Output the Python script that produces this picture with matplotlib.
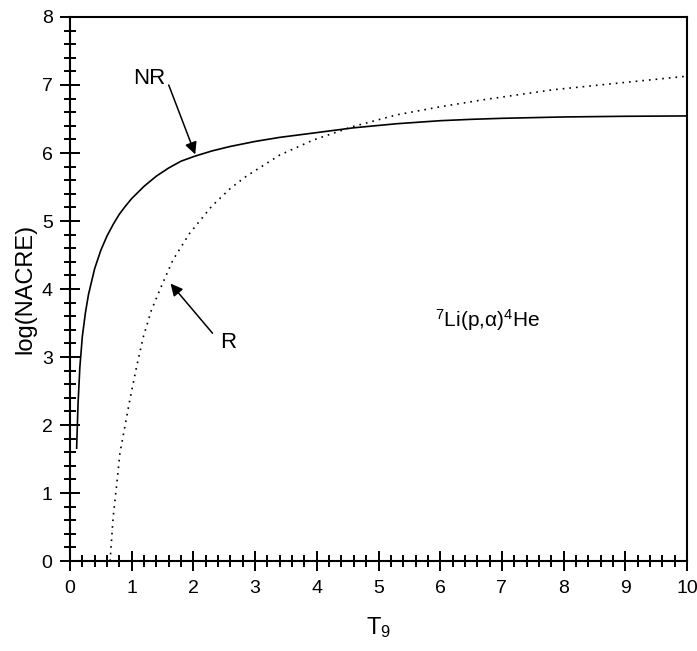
import matplotlib
matplotlib.use("Agg")
import matplotlib.pyplot as plt
from matplotlib.ticker import MultipleLocator

plt.rcParams['font.family'] = ['Liberation Sans', 'DejaVu Sans']
plt.rcParams['mathtext.fontset'] = 'custom'
plt.rcParams['mathtext.rm'] = 'Liberation Sans'
plt.rcParams['mathtext.it'] = 'Liberation Sans'

# non-resonant part (solid)
t9_nr = [0.108, 0.13, 0.16, 0.2, 0.25, 0.3, 0.4, 0.5, 0.6, 0.7, 0.8, 0.9,
         1.0, 1.2, 1.4, 1.6, 1.8, 2.03, 2.3, 2.59, 3.0, 3.4, 4.0, 4.59, 5.29,
         6.0, 6.5, 7.0, 8.0, 9.0, 10.0]
log_nr = [1.66, 2.3, 2.85, 3.3, 3.65, 3.92, 4.3, 4.57, 4.78, 4.95, 5.1, 5.22,
          5.33, 5.51, 5.66, 5.78, 5.88, 5.955, 6.03, 6.095, 6.17, 6.23, 6.30,
          6.37, 6.43, 6.475, 6.495, 6.51, 6.53, 6.54, 6.545]

# resonant part (dotted)
t9_r = [0.65, 0.70, 0.76, 0.81, 0.89, 0.97, 1.08, 1.19, 1.32, 1.49, 1.67, 1.94,
        2.30, 2.60, 2.86, 3.40, 3.94, 4.59, 5.29, 6.0, 6.75, 7.83, 8.91, 10.0]
log_r = [0.0, 0.65, 1.15, 1.59, 1.98, 2.37, 2.86, 3.30, 3.69, 4.06, 4.43, 4.82,
         5.22, 5.48, 5.66, 5.97, 6.19, 6.39, 6.56, 6.68, 6.79, 6.93, 7.03, 7.13]

fig = plt.figure(figsize=(6.97, 6.51), dpi=100)
ax = fig.add_axes([0.1004, 0.1382, 0.8853, 0.8357])

ax.plot(t9_nr, log_nr, color='black', lw=1.2)
ax.plot(t9_r, log_r, color='black', lw=1.2, linestyle=(0, (1, 3)))

ax.set_xlim(0, 10)
ax.set_ylim(0, 8)
ax.xaxis.set_major_locator(MultipleLocator(1))
ax.xaxis.set_minor_locator(MultipleLocator(0.2))
ax.yaxis.set_major_locator(MultipleLocator(1))
ax.yaxis.set_minor_locator(MultipleLocator(0.2))
ax.tick_params(which='major', direction='inout', length=15, width=1.4,
               labelsize=14, pad=5)
ax.tick_params(which='minor', direction='inout', length=8.5, width=1.4)
ax.tick_params(axis='x', which='major', pad=6)
for s in ax.spines.values():
    s.set_linewidth(1.5)

ax.set_xlabel(r'T$_\mathregular{9}$', fontsize=17, labelpad=13)
ax.set_ylabel('log(NACRE)', fontsize=17, labelpad=4)

arrow = dict(arrowstyle='-|>', color='black', lw=1.1, mutation_scale=18,
             shrinkA=0, shrinkB=0)
ax.annotate('', xy=(2.03, 5.98), xytext=(1.60, 7.0), arrowprops=arrow)
ax.text(1.28, 7.09, 'NR', fontsize=16, ha='center', va='center')
ax.annotate('', xy=(1.63, 4.08), xytext=(2.31, 3.35), arrowprops=arrow)
ax.text(2.57, 3.22, 'R', fontsize=16, ha='center', va='center')
ax.text(5.92, 3.55, r'$^\mathregular{7}$Li(p,α)$^\mathregular{4}$He',
        fontsize=15, ha='left', va='center')

fig.savefig('out.png', dpi=100)
